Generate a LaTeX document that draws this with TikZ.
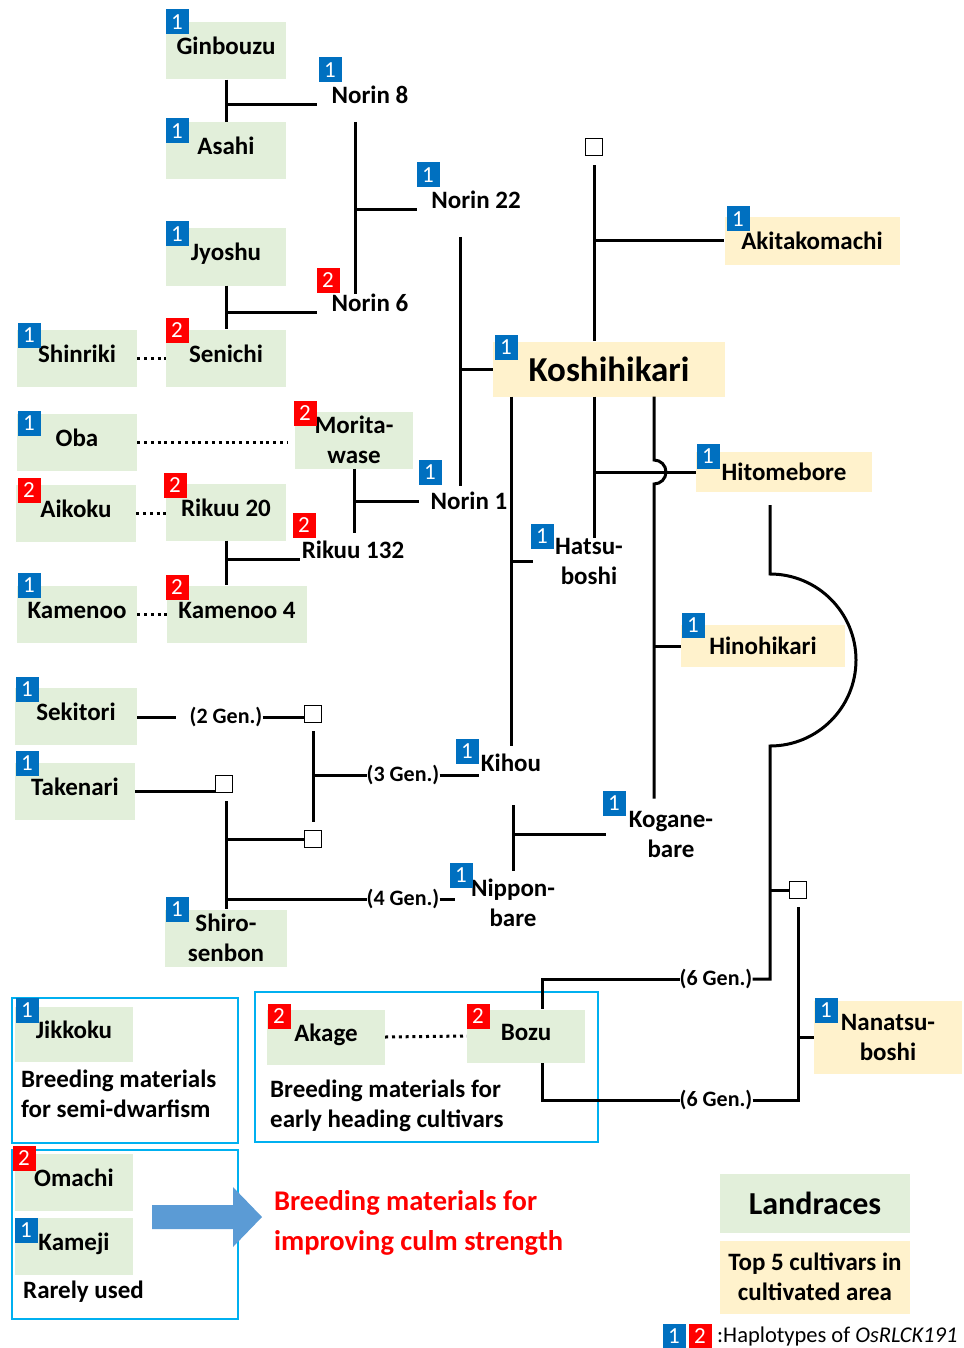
\documentclass[tikz,border=0pt]{standalone}
\usepackage{fontspec}
\setmainfont{Carlito}
\usetikzlibrary{arrows.meta}
\definecolor{LandGreen}{RGB}{226,239,218}
\definecolor{TopYellow}{RGB}{255,242,204}
\definecolor{HapBlue}{RGB}{0,112,192}
\definecolor{HapRed}{RGB}{255,0,0}
\definecolor{GroupCyan}{RGB}{0,176,240}
\definecolor{ArrowBlue}{RGB}{91,155,213}
\newcommand{\fsz}[2]{\fontsize{#1}{#2}\selectfont}

\begin{document}
\begin{tikzpicture}[x=1pt, y=-1pt,
      every node/.style={font=\bfseries\fsz{25}{30}, align=center},
      land/.style={fill=LandGreen, minimum width=120pt, minimum height=57pt, inner sep=0pt, text height=17pt, text depth=9pt},
      land2/.style={fill=LandGreen, minimum width=120pt, minimum height=57pt, inner sep=0pt},
      top5/.style={fill=TopYellow, inner sep=0pt},
      cv/.style={inner xsep=2pt, inner ysep=0pt},
      hapone/.style={fill=HapBlue, text=white, minimum width=23pt, minimum height=25pt, inner sep=0pt, font=\fsz{23}{23}},
      haptwo/.style={hapone, fill=HapRed},
      unk/.style={draw, fill=white, line width=1.8pt, minimum size=17pt, inner sep=0pt},
      ped/.style={line width=3pt},
      dots/.style={line width=3pt, dash pattern=on 3pt off 3.8pt},
      gen/.style={inner sep=0pt, font=\bfseries\fsz{22}{22}},
      grp/.style={draw=GroupCyan, line width=1.6pt, inner sep=0pt},
      note/.style={align=left, anchor=west, inner sep=0pt}
  ]
    \useasboundingbox (0,0) rectangle (963,1348);

    \node[land] (gin) at (226,51) {Ginbouzu};
    \node[land] (asahi) at (226,151) {Asahi};
    \node[land] (jyoshu) at (226,257) {Jyoshu};
    \node[land] (senichi) at (226,358) {Senichi};
    \node[land] (shinriki) at (77,358) {Shinriki};
    \node[land] (oba) at (77,442) {Oba};
    \node[land2, minimum width=118pt] (morita) at (354,440) {Morita-\\wase};
    \node[land] (aikoku) at (76,513) {Aikoku};
    \node[land] (rikuu20) at (226,512) {Rikuu 20};
    \node[land] (kamenoo) at (77,614) {Kamenoo};
    \node[land, minimum width=140pt] (kamenoo4) at (237,614) {Kamenoo 4};
    \node[land, minimum width=122pt] (sekitori) at (76,716) {Sekitori};
    \node[land] (takenari) at (75,791) {Takenari};
    \node[land2, minimum width=122pt] (shiro) at (226,938) {Shiro-\\senbon};
    \node[land, minimum width=118pt, minimum height=55pt] (jikkoku) at (74,1034) {Jikkoku};
    \node[land, minimum width=118pt, minimum height=55pt] (akage) at (326,1037) {Akage};
    \node[land, minimum width=118pt, minimum height=53pt] (bozu) at (526,1036) {Bozu};
    \node[land, minimum width=118pt] (omachi) at (74,1182) {Omachi};
    \node[land, minimum width=118pt] (kameji) at (74,1246) {Kameji};

    \node[top5, minimum width=175pt, minimum height=48pt] (akita) at (812,241) {Akitakomachi};
    \node[top5, minimum width=232pt, minimum height=55pt, font=\bfseries\fsz{35}{35}] (koshi) at (609,369) {Koshihikari};
    \node[top5, minimum width=176pt, minimum height=40pt] (hitome) at (784,472) {Hitomebore};
    \node[top5, minimum width=164pt, minimum height=42pt] (hino) at (763,646) {Hinohikari};
    \node[top5, minimum width=148pt, minimum height=73pt] (nanatsu) at (888,1037) {Nanatsu-\\boshi};

    \node[cv] (norin8) at (370,95) {Norin 8};
    \node[cv] (norin22) at (476,200) {Norin 22};
    \node[cv] (norin6) at (370,303) {Norin 6};
    \node[cv] (norin1) at (469,501) {Norin 1};
    \node[cv] (rikuu132) at (353,550) {Rikuu 132};
    \node[cv] (hatsu) at (589,561) {Hatsu-\\boshi};
    \node[cv] (kihou) at (511,763) {Kihou};
    \node[cv] (kogane) at (671,834) {Kogane-\\bare};
    \node[cv] (nippon) at (513,903) {Nippon-\\bare};

    \node[unk] (unk1) at (594,147) {};
    \node[unk] (unk2) at (313,714) {};
    \node[unk] (unk3) at (224,784) {};
    \node[unk] (unk4) at (313,839) {};
    \node[unk] (unk5) at (798,890) {};

    \node[gen] (gen2) at (226,717) {(2 Gen.)};
    \node[gen] (gen3) at (403,775) {(3 Gen.)};
    \node[gen] (gen4) at (403,899) {(4 Gen.)};
    \node[gen] (gen6a) at (716,979) {(6 Gen.)};
    \node[gen] (gen6b) at (716,1100) {(6 Gen.)};

    \node[grp, minimum width=226pt, minimum height=145pt] (grpdwarf) at (125,1070.5) {};
    \node[grp, minimum width=343pt, minimum height=150pt] (grpearly) at (426.5,1067) {};
    \node[grp, minimum width=226pt, minimum height=169pt] (grprare) at (125,1234.5) {};
    \node[note] (dwarfnote) at (21,1094) {Breeding materials\\for semi-dwarfism};
    \node[note] (earlynote) at (270,1106) {Breeding materials for\\early heading cultivars};
    \node[note] (rarenote) at (23,1292) {Rarely used};
    \node[note, text=HapRed, font=\bfseries\fsz{28.5}{40}] (culmnote) at (274,1223) {Breeding materials for\\improving culm strength};
    \coordinate (culmfrom) at (152,1217);
    \fill[ArrowBlue] (culmfrom) -- ++(0,-12) -- ++(81,0) -- ++(0,-18) -- ++(29,30) -- ++(-29,30) -- ++(0,-18) -- ++(-81,0) -- cycle;

    \node[top5, fill=LandGreen, minimum width=190pt, minimum height=59pt, font=\bfseries\fsz{32}{32}] (legland) at (815,1203) {Landraces};
    \node[top5, minimum width=190pt, minimum height=73pt] (legtop) at (815,1277) {Top 5 cultivars in\\cultivated area};
    \node[hapone] (leg1) at (674,1336) {1};
    \node[haptwo] (leg2) at (700,1336) {2};
    \node[anchor=west, inner sep=0pt, font=\fsz{22.5}{22.5}] (legtext) at (717,1336) {:Haplotypes of \textit{OsRLCK191}};

    \draw[ped] (gin.south) -- (asahi.north);
    \draw[ped, shorten >=12pt] (gin.south |- norin8.south west) -- (norin8.south west);
    \coordinate (n8bar) at (355,122);
    \draw[ped] (n8bar) -- (n8bar |- norin6.north);
    \draw[ped, shorten >=12pt] (n8bar |- norin22.south west) -- (norin22.south west);
    \draw[ped] (jyoshu.south) -- (senichi.north);
    \draw[ped, shorten >=12pt] (jyoshu.south |- norin6.south west) -- (norin6.south west);
    \coordinate (n22bar) at (460,237);
    \draw[ped, shorten >=6pt] (n22bar) -- (n22bar |- norin1.north);
    \draw[ped] (n22bar |- koshi.west) -- (koshi.west);
    \draw[ped, shorten >=8pt] (morita.south) -- (morita.south |- rikuu132.north);
    \draw[ped, shorten >=9pt] (morita.south |- norin1.west) -- (norin1.west);
    \draw[ped] (rikuu20.south) -- (rikuu20.south |- kamenoo4.north);
    \draw[ped] (rikuu20.south |- rikuu132.south west) -- (rikuu132.south west);

    \draw[ped, shorten >=8pt] (koshi.south -| kihou.north) -- (kihou.north);
    \draw[ped, shorten >=20pt] (kihou.north |- hatsu.west) -- (hatsu.west);
    \draw[ped, shorten <=9pt] (unk1.south) -- (unk1.south |- koshi.north);
    \draw[ped] (unk1.south |- akita.west) -- (akita.west);
    \draw[ped] (unk1.south |- koshi.south) -- (unk1.south |- hatsu.north);
    \draw[ped] (unk1.south |- hitome.west) -- (hitome.west);
    \coordinate (hop) at (654,472);
    \draw[ped, shorten >=12pt] (koshi.south -| hop) -- ([yshift=12pt]hop) arc[start angle=90, end angle=-90, radius=12pt] -- (hop |- kogane.north);
    \draw[ped] (hop |- hino.west) -- (hino.west);
    \draw[ped, shorten <=33pt, shorten >=8pt] (kihou.south -| nippon.north) -- (nippon.north);
    \draw[ped, shorten >=21pt] (nippon.north |- kogane.west) -- (kogane.west);

    \draw[ped, shorten >=13pt] (gen2.west -| sekitori.east) -- (gen2.west);
    \draw[ped] (gen2.east) -- (gen2.east -| unk2.west);
    \draw[ped, shorten <=8pt, shorten >=8pt] (unk2.south) -- (unk4.north);
    \draw[ped] (unk2.south |- gen3.west) -- (gen3.west);
    \draw[ped] (gen3.east) -- (gen3.east -| kihou.west);
    \draw[ped] (takenari.east) -- (takenari.east -| unk3.west);
    \draw[ped, shorten <=8pt] (unk3.south -| shiro.north) -- (shiro.north);
    \draw[ped] (shiro.north |- unk4.west) -- (unk4.west);
    \draw[ped] (shiro.north |- gen4.west) -- (gen4.west);
    \draw[ped, shorten >=14pt] (gen4.east) -- (gen4.east -| nippon.west);

    \coordinate (hbar) at (770,505);
    \draw[ped] (hbar) -- ++(0,69) arc[start angle=90, end angle=-90, radius=86pt] -- (hbar |- gen6a.east) -- (gen6a.east);
    \draw[ped] (hbar |- unk5.west) -- (unk5.west);
    \draw[ped] (gen6a.west) -| ([xshift=16pt]bozu.north);
    \draw[ped] (gen6b.west) -| ([xshift=16pt]bozu.south);
    \draw[ped, shorten >=8pt] (gen6b.east) -| (unk5.south);
    \draw[ped] (unk5.south |- nanatsu.west) -- (nanatsu.west);

    \draw[dots] (shinriki.east) -- (senichi.west);
    \draw[dots, shorten >=7pt] (oba.east) -- (oba.east -| morita.west);
    \draw[dots] (aikoku.east) -- (aikoku.east -| rikuu20.west);
    \draw[dots] (kamenoo.east) -- (kamenoo4.west);
    \draw[dots] (akage.east) -- (bozu.west);

    \node[hapone] (gin-h) at (177,22) {1};
    \node[hapone] (asahi-h) at (177,131) {1};
    \node[hapone] (jyoshu-h) at (177,234) {1};
    \node[haptwo] (senichi-h) at (177,330) {2};
    \node[hapone] (shinriki-h) at (29,335) {1};
    \node[hapone] (oba-h) at (29,423) {1};
    \node[haptwo] (morita-h) at (305,413) {2};
    \node[haptwo] (aikoku-h) at (29,490) {2};
    \node[haptwo] (rikuu20-h) at (175,485) {2};
    \node[hapone] (kamenoo-h) at (29,585) {1};
    \node[haptwo] (kamenoo4-h) at (177,587) {2};
    \node[hapone] (sekitori-h) at (27,689) {1};
    \node[hapone] (takenari-h) at (27,763) {1};
    \node[hapone] (shiro-h) at (177,909) {1};
    \node[hapone] (jikkoku-h) at (27,1010) {1};
    \node[haptwo] (akage-h) at (279,1016) {2};
    \node[haptwo] (bozu-h) at (478,1016) {2};
    \node[haptwo] (omachi-h) at (24,1158) {2};
    \node[hapone] (kameji-h) at (26,1230) {1};
    \node[hapone] (norin8-h) at (330,70) {1};
    \node[hapone] (norin22-h) at (428,175) {1};
    \node[haptwo] (norin6-h) at (328,280) {2};
    \node[hapone] (norin1-h) at (430,472) {1};
    \node[haptwo] (rikuu132-h) at (304,525) {2};
    \node[hapone] (hatsu-h) at (542,536) {1};
    \node[hapone] (kihou-h) at (467,751) {1};
    \node[hapone] (kogane-h) at (614,803) {1};
    \node[hapone] (nippon-h) at (461,875) {1};
    \node[hapone] (akita-h) at (738,219) {1};
    \node[hapone] (koshi-h) at (506,347) {1};
    \node[hapone] (hitome-h) at (708,456) {1};
    \node[hapone] (hino-h) at (693,625) {1};
    \node[hapone] (nanatsu-h) at (826,1010) {1};
  \end{tikzpicture}
\end{document}
